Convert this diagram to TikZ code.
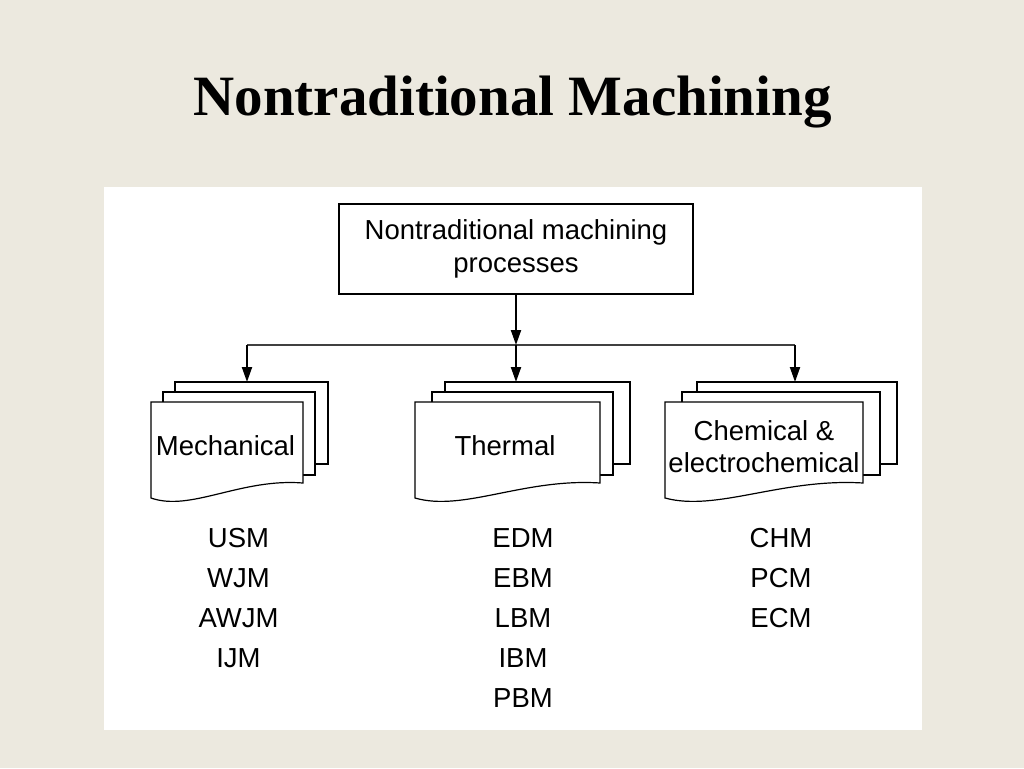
\documentclass[tikz,border=0pt]{standalone}
\usepackage{fontspec}
\setmainfont{Liberation Serif}
\newfontfamily\arialf{Liberation Sans}
\usetikzlibrary{arrows.meta}
\definecolor{bgc}{HTML}{ECE9DF}
\tikzset{
  sans/.style={font=\arialf\fontsize{27.5}{40}\selectfont, inner sep=0pt},
  page/.style={draw=black, fill=white, line width=1.2pt},
  arr/.style={line width=2pt, -{Triangle[length=15pt,width=10pt]}},
  rail/.style={line width=1.5pt, draw=black!75},
}
\newcommand\docstack[6]{%
  \draw[page] (#5,382) rectangle (#6,464);
  \draw[page] (#3,392) rectangle (#4,475);
  \draw[page] (#1,402) -- (#2,402) -- (#2,483)
    .. controls ({#2-0.41*(#2-#1)},478) and ({#1+0.26*(#2-#1)},512) .. (#1,498) -- cycle;
}
\begin{document}
\begin{tikzpicture}[x=1pt,y=-1pt]
\fill[bgc] (0,0) rectangle (1024,768);
\useasboundingbox (0,0) rectangle (1024,768);
\fill[white] (104,187) rectangle (922,730);

\node[font=\fontsize{57}{60}\selectfont\bfseries, anchor=base, inner sep=0pt] (title) at (512.5,115) {Nontraditional Machining};

\node[draw, line width=2pt, minimum width=354pt, minimum height=90pt, inner sep=0pt,
      align=center, font=\arialf\fontsize{27.5}{33}\selectfont] (root) at (516,248.5)
      {Nontraditional machining\\processes};

% stacks
\docstack{151}{303}{163}{315}{175}{328}
\docstack{415}{600}{432}{613}{445}{630}
\docstack{665}{863}{682}{880}{697}{897}

\coordinate (hub) at (root.south |- 0,345);
\coordinate (mechT) at (247,382);
\coordinate (thermT) at (root.south |- 0,382);
\coordinate (chemT) at (795,382);

\draw[rail] (mechT |- hub) -- (chemT |- hub);
\draw[arr] (root.south) -- (hub);
\draw[arr] (mechT |- hub) -- (mechT);
\draw[arr] (hub) -- (thermT);
\draw[arr] (chemT |- hub) -- (chemT);

\node[sans, anchor=base] (mech) at (225.5,455) {Mechanical};
\node[sans, anchor=base] (therm) at (505,455) {Thermal};
\node[sans, align=center, anchor=north, font=\arialf\fontsize{27.5}{32}\selectfont] (chem) at (764,420) {Chemical \&\\electrochemical};

\node[sans, align=center, anchor=north] (mechlist) at (238.5,528) {USM\\WJM\\AWJM\\IJM};
\node[sans, align=center, anchor=north] (thermlist) at (523,528) {EDM\\EBM\\LBM\\IBM\\PBM};
\node[sans, align=center, anchor=north] (chemlist) at (781,528) {CHM\\PCM\\ECM};
\end{tikzpicture}
\end{document}
